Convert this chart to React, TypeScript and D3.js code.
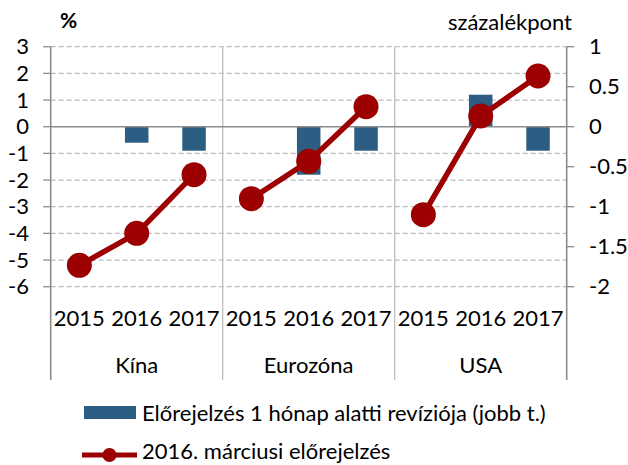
import React from "react";
import * as d3 from "d3";

const groups = ["Kína", "Eurozóna", "USA"];
const years = ["2015", "2016", "2017"];
// 2016. márciusi előrejelzés (left axis, %)
const forecast = [
  [-5.2, -4.0, -1.8],
  [-2.7, -1.3, 0.75],
  [-3.3, 0.4, 1.9],
];
// Előrejelzés 1 hónap alatti revíziója (right axis, százalékpont)
const revision = [
  [0, -0.2, -0.3],
  [0, -0.6, -0.3],
  [0, 0.4, -0.3],
];
const leftTicks = [3, 2, 1, 0, -1, -2, -3, -4, -5, -6];
const rightTicks = [1, 0.5, 0, -0.5, -1, -1.5, -2];
const leftUnit = "%";
const rightUnit = "százalékpont";
const legendBar = "Előrejelzés 1 hónap alatti revíziója (jobb t.)";
const legendLine = "2016. márciusi előrejelzés";

const W = 628;
const H = 465;
const plotL = 50.7;
const plotR = 566.7;
const plotT = 46.7;
const plotB = 286.7;
const axisBottom = 380;
const BAR = "#2C5D82";
const RED = "#9C0000";
const FONT = "Lato, 'Open Sans', sans-serif";
const FS = 22;

export default function App() {
  const yL = d3.scaleLinear().domain([-6, 3]).range([plotB, plotT]);
  const yR = d3.scaleLinear().domain([-2, 1]).range([plotB, plotT]);
  const xG = d3.scaleBand<string>().domain(groups).range([plotL, plotR]).padding(0);
  const xY = d3.scaleBand<string>().domain(years).range([0, xG.bandwidth()]).padding(0);
  const barW = xY.bandwidth() * 0.41;
  const cx = (g: string, y: string) => (xG(g) as number) + (xY(y) as number) + xY.bandwidth() / 2;
  const line = d3
    .line<[number, number]>()
    .x((d) => d[0])
    .y((d) => d[1]);

  return (
    <svg
      width={W}
      height={H}
      style={{ position: "absolute", left: 0, top: 0, background: "#fff" }}
      fontFamily={FONT}
    >
      {/* gridlines */}
      {leftTicks
        .filter((t) => t !== 0)
        .map((t) => (
          <line
            key={"g" + t}
            x1={plotL}
            x2={plotR}
            y1={yL(t)}
            y2={yL(t)}
            stroke="#BDBDBD"
            strokeWidth={1.3}
            strokeDasharray="5,3"
          />
        ))}
      {/* group dividers */}
      {groups.slice(1).map((g) => (
        <line
          key={"d" + g}
          x1={xG(g)}
          x2={xG(g)}
          y1={plotT}
          y2={axisBottom}
          stroke="#BEBEBE"
          strokeWidth={1.3}
        />
      ))}
      {/* bars */}
      {groups.map((g, gi) =>
        years.map((yr, yi) => {
          const v = revision[gi][yi];
          const y0 = yR(0);
          const y1 = yR(v);
          return (
            <rect
              key={"b" + g + yr}
              x={cx(g, yr) - barW / 2}
              y={Math.min(y0, y1)}
              width={barW}
              height={Math.abs(y1 - y0)}
              fill={BAR}
            />
          );
        })
      )}
      {/* zero line */}
      <line x1={plotL} x2={plotR} y1={yL(0)} y2={yL(0)} stroke="#8C8C8C" strokeWidth={1.6} />
      {/* left axis */}
      <line x1={plotL} x2={plotL} y1={plotT} y2={axisBottom} stroke="#8C8C8C" strokeWidth={1.6} />
      {leftTicks.map((t) => (
        <g key={"lt" + t}>
          <line x1={plotL - 7.5} x2={plotL} y1={yL(t)} y2={yL(t)} stroke="#8C8C8C" strokeWidth={1.3} />
          <text x={29} y={yL(t)} dy="0.35em" textAnchor="end" fontSize={FS} fill="#000">
            {t}
          </text>
        </g>
      ))}
      {/* right axis */}
      <line x1={plotR} x2={plotR} y1={plotT} y2={axisBottom} stroke="#8C8C8C" strokeWidth={1.6} />
      {rightTicks.map((t) => (
        <g key={"rt" + t}>
          <line x1={plotR} x2={plotR + 7.5} y1={yR(t)} y2={yR(t)} stroke="#8C8C8C" strokeWidth={1.3} />
          <text x={589} y={yR(t)} dy="0.35em" textAnchor="start" fontSize={FS} fill="#000">
            {t}
          </text>
        </g>
      ))}
      {/* category labels */}
      {groups.map((g) => (
        <g key={"cl" + g}>
          {years.map((yr) => (
            <text key={yr} x={cx(g, yr)} y={318} dy="0.35em" textAnchor="middle" fontSize={FS} fill="#000">
              {yr}
            </text>
          ))}
          <text
            x={(xG(g) as number) + xG.bandwidth() / 2}
            y={365}
            dy="0.35em"
            textAnchor="middle"
            fontSize={FS}
            fill="#000"
          >
            {g}
          </text>
        </g>
      ))}
      {/* forecast lines */}
      {groups.map((g, gi) => {
        const pts: [number, number][] = years.map((yr, yi) => [cx(g, yr), yL(forecast[gi][yi])]);
        return (
          <g key={"ln" + g}>
            <path d={line(pts) as string} fill="none" stroke={RED} strokeWidth={5.5} />
            {pts.map((p, i) => (
              <circle key={i} cx={p[0]} cy={p[1]} r={12.5} fill={RED} />
            ))}
          </g>
        );
      })}
      {/* unit labels */}
      <text x={60} y={21} dy="0.35em" fontSize={FS - 1} fontWeight="bold" fill="#000">
        {leftUnit}
      </text>
      <text x={572} y={22} dy="0.35em" textAnchor="end" fontSize={FS} fill="#000">
        {rightUnit}
      </text>
      {/* legend */}
      <rect x={84} y={406} width={52} height={13} fill={BAR} />
      <text x={142} y={413} dy="0.35em" fontSize={FS} fill="#000">
        {legendBar}
      </text>
      <line x1={82} x2={137} y1={455} y2={455} stroke={RED} strokeWidth={5} />
      <circle cx={109.5} cy={455} r={7} fill={RED} />
      <text x={142} y={451.5} dy="0.35em" fontSize={FS} fill="#000">
        {legendLine}
      </text>
    </svg>
  );
}
